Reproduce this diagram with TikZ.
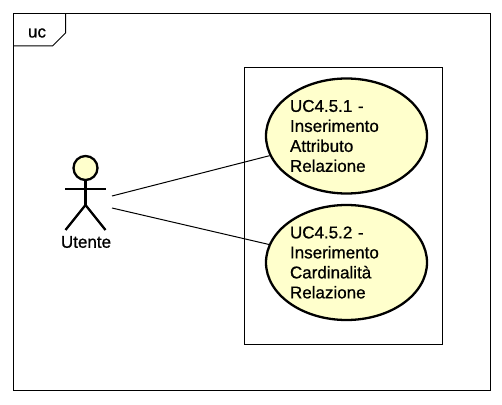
\documentclass[tikz,border=0pt]{standalone}
\usepackage{fontspec}
\setmainfont{Liberation Sans}[FakeBold=0.8]
\usetikzlibrary{shapes.geometric}
\definecolor{ucfill}{RGB}{255,255,204}

\begin{document}
\begin{tikzpicture}[x=1pt,y=1pt, usecase/.style={ellipse,draw,fill=ucfill,line width=2.3pt,inner sep=0pt,text width=113pt,minimum width=161pt,minimum height=115pt,align=left,font=\fontsize{17}{20}\selectfont}, actorline/.style={line width=2.3pt}, thinline/.style={line width=1pt}, lbl/.style={font=\fontsize{17}{20}\selectfont,inner sep=0pt}, ]

	\useasboundingbox (0,0) rectangle (502,404);
	\fill[white] (0,0) rectangle (502,404);

	% frame with its tab
	\coordinate (frameNW) at (13.5,390.5);
	\coordinate (frameSE) at (490.5,13.5);
	\coordinate (tabA) at (65.5,390.5);
	\coordinate (tabB) at (65.5,371);
	\coordinate (tabC) at (52.5,358);
	\coordinate (tabD) at (13.5,358);
	\draw[thinline] (frameNW) rectangle (frameSE);
	\draw[thinline] (tabA) -- (tabB) -- (tabC) -- (tabD);
	\node[lbl] (tabname) at (37,371) {uc};

	% system box
	\coordinate (boxNW) at (244.5,336.5);
	\coordinate (boxSE) at (442.5,59.5);
	\draw[thinline] (boxNW) rectangle (boxSE);

	% use cases
	\node[usecase] (uc1) at (346.5,268) {UC4.5.1 -\\Inserimento\\Attributo\\Relazione};
	\node[usecase] (uc2) at (346.5,141.5) {UC4.5.2 -\\Inserimento\\Cardinalità\\Relazione};

	% actor
	\node[circle,draw,fill=ucfill,line width=2.3pt,minimum size=24pt,inner sep=0pt] (head) at (85.5,236) {};
	\coordinate (hip) at (85.5,199);
	\coordinate (armL) at (65,215);
	\coordinate (armR) at (106,215);
	\coordinate (footL) at (65.5,174);
	\coordinate (footR) at (105.5,174);
	\draw[actorline] (head) -- (hip);
	\draw[actorline] (armL) -- (armR);
	\draw[actorline] (footL) -- (hip) -- (footR);
	\node[lbl] (utente) at (86,162) {Utente};

	% associations
	\coordinate (out1) at (112,208);
	\coordinate (out2) at (112,196);
	\draw[thinline] (out1) -- (uc1);
	\draw[thinline] (out2) -- (uc2);
\end{tikzpicture}
\end{document}
